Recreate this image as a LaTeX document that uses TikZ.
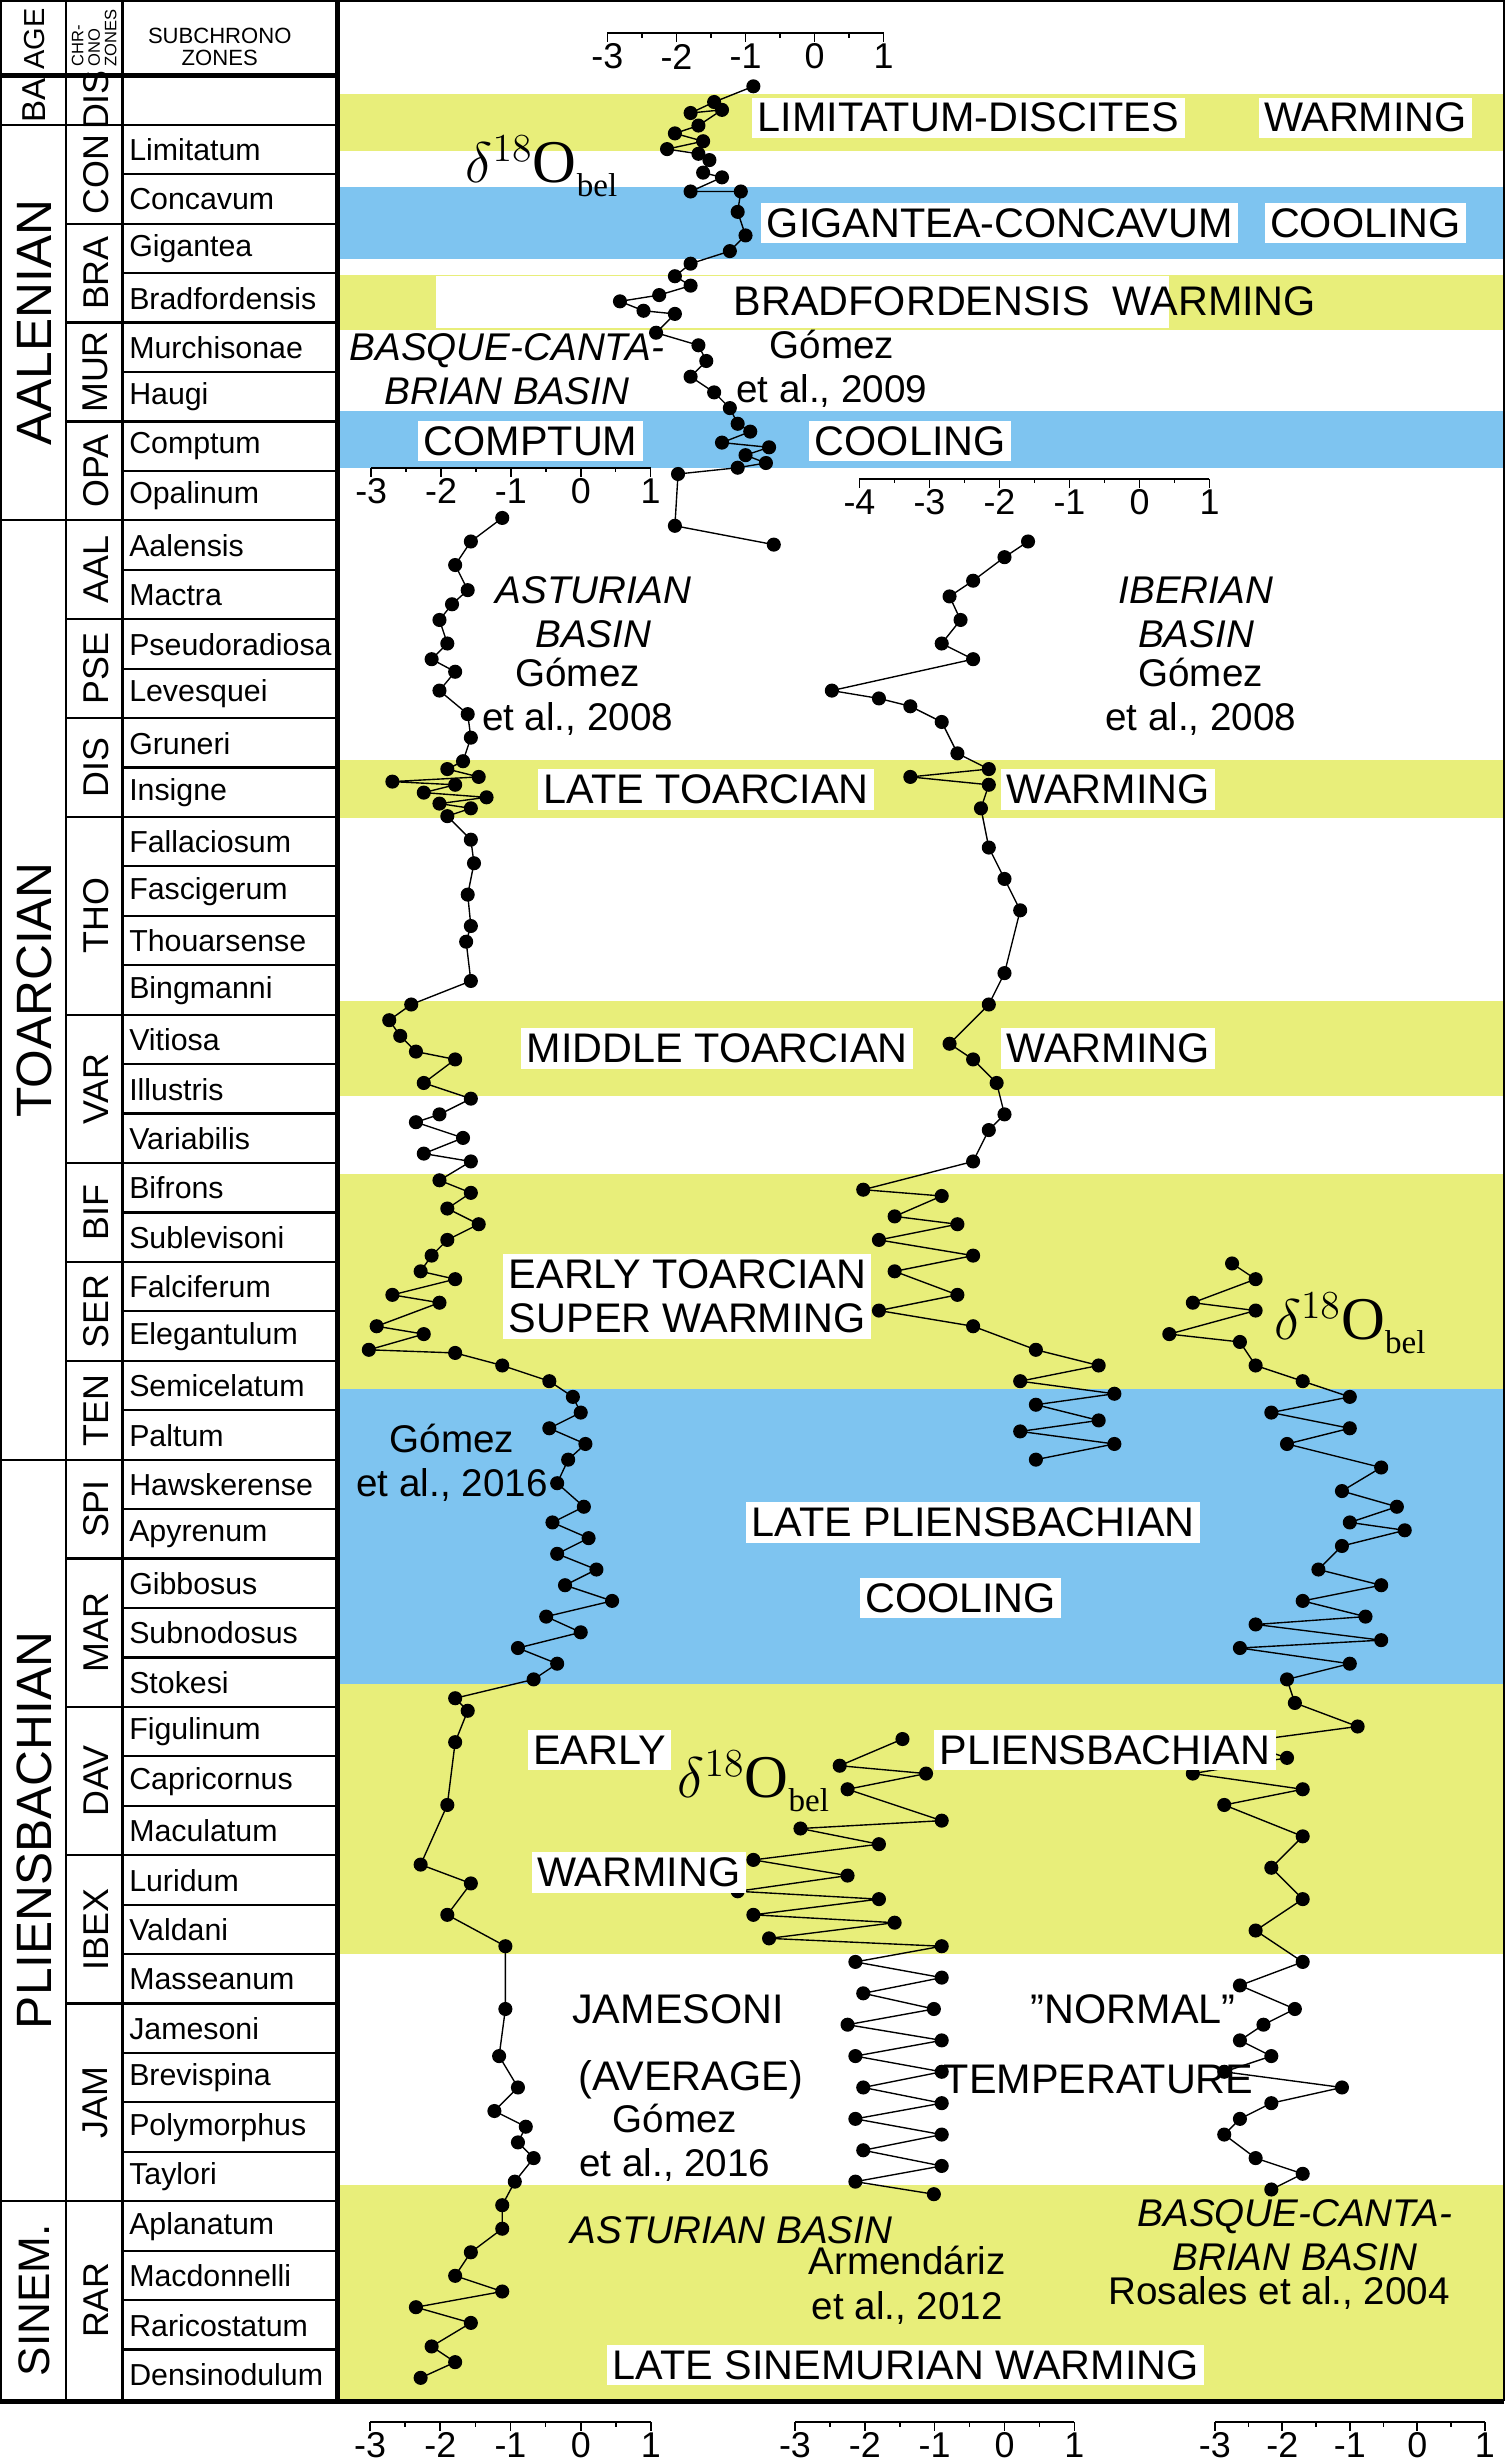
\documentclass[tikz,border=0pt]{standalone}
\usepackage{fontspec}
\setmainfont{Liberation Sans}
\newfontfamily\serf{Liberation Serif}
\begin{document}
\begin{tikzpicture}[x=0.02cm,y=-0.02cm,
  axl/.style={line width=0.6pt},
  axn/.style={font=\fontsize{13}{13}\selectfont,inner sep=0pt},
  grid/.style={line width=0.8pt},
  thk/.style={line width=1.6pt},
  sub/.style={anchor=west,font=\fontsize{11}{12}\selectfont,inner sep=0pt},
  chr/.style={rotate=90,font=\fontsize{13}{13}\selectfont,inner sep=0pt},
  agel/.style={rotate=90,font=\fontsize{18}{18}\selectfont,inner sep=0pt},
  lab/.style={font=\fontsize{15}{16}\selectfont,fill=white,inner sep=2pt,align=center},
  labn/.style={font=\fontsize{15}{16}\selectfont,inner sep=1pt,align=center},
  ital/.style={font=\fontsize{14}{16}\selectfont\itshape,inner sep=0pt,align=center},
  auth/.style={font=\fontsize{14}{16}\selectfont,inner sep=0pt,align=center},
  dO/.style={font=\serf\fontsize{22}{22}\selectfont,inner sep=0pt},
  curve/.style={line width=0.5pt,mark=*,mark size=2.3pt,mark options={fill=black}}]
\definecolor{yel}{RGB}{232,238,122}
\definecolor{blu}{RGB}{126,196,240}
\newcommand\dOtext{$\delta^{18}$O\raisebox{-5pt}{\fontsize{12}{12}\selectfont bel}}
\useasboundingbox (0,0) rectangle (960,1568);
% bands
\foreach \a/\b in {60/96,175/210,484/521,638/698,748/885,1073/1245,1392/1530}
  \fill[yel] (215,\a) rectangle (958,\b);
\foreach \a/\b in {119/165,262/298,885/1073}
  \fill[blu] (215,\a) rectangle (958,\b);
\fill[white] (278,176) rectangle (745,209);
% axes
\newcommand\dax[5]{%
  \draw[axl] ({#2+(#4)*#3},#1)--({#2+(#5)*#3},#1);
  \pgfmathtruncatemacro\lo{2*#4}\pgfmathtruncatemacro\hi{2*#5}%
  \foreach \k in {\lo,...,\hi}{\draw[axl] ({#2+\k*#3/2},#1)--++(0,{ifthenelse(mod(\k,2)==0,6,3)});}
  \foreach \v in {#4,...,#5}{\node[axn] at ({#2+\v*#3},#1+15) {\v};}}
\dax{21}{519}{44}{-3}{1}
\dax{298}{370}{44.5}{-3}{1}
\dax{305}{726}{44.6}{-4}{1}
\dax{1543}{370}{44.75}{-3}{1}
\dax{1543}{640}{44.5}{-3}{1}
\dax{1543}{903}{43}{-3}{1}
% table
\foreach \i in {1,...,46} \draw[grid] (78,{48+31.5*\i})--(215,{48+31.5*\i});
\foreach \i in {1,3,5,7,9,11,13,15,19,22,24,26,28,30,33,36,39,43}
  \draw[grid] (42,{48+31.5*\i})--(215,{48+31.5*\i});
\foreach \i in {1,9,28,43} \draw[grid] (0,{48+31.5*\i})--(215,{48+31.5*\i});
\draw[thk] (0,48)--(215,48);
\draw[grid] (42,0)--(42,1530) (78,0)--(78,1530);
\draw[thk] (0,0) rectangle (215,1530);
\draw[thk] (215,0)--(958,0) (215,1530)--(958,1530);
\draw[grid] (958,0)--(958,1530);
\foreach \n [count=\i from 1] in {Limitatum,Concavum,Gigantea,Bradfordensis,Murchisonae,Haugi,Comptum,Opalinum,Aalensis,Mactra,Pseudoradiosa,Levesquei,Gruneri,Insigne,Fallaciosum,Fascigerum,Thouarsense,Bingmanni,Vitiosa,Illustris,Variabilis,Bifrons,Sublevisoni,Falciferum,Elegantulum,Semicelatum,Paltum,Hawskerense,Apyrenum,Gibbosus,Subnodosus,Stokesi,Figulinum,Capricornus,Maculatum,Luridum,Valdani,Masseanum,Jamesoni,Brevispina,Polymorphus,Taylori,Aplanatum,Macdonnelli,Raricostatum,Densinodulum}
  \node[sub] (s\i) at (82,{48+31.5*\i+16}) {\n};
\foreach \n/\a/\b [count=\i] in {DIS/0/1,CON/1/3,BRA/3/5,MUR/5/7,OPA/7/9,AAL/9/11,PSE/11/13,DIS/13/15,THO/15/19,VAR/19/22,BIF/22/24,SER/24/26,TEN/26/28,SPI/28/30,MAR/30/33,DAV/33/36,IBEX/36/39,JAM/39/43,RAR/43/47}
  \node[chr] (c\i) at (61,{48+31.5*(\a+\b)/2}) {\n};
\foreach \n/\a/\b [count=\i] in {AALENIAN/1/9,TOARCIAN/9/28,PLIENSBACHIAN/28/43}
  \node[agel] (g\i) at (22,{48+31.5*(\a+\b)/2}) {\n};
\node[agel,font=\fontsize{16}{16}\selectfont] (g4) at (22,{48+31.5*45}) {SINEM.};
\node[agel,font=\fontsize{12}{12}\selectfont] (g0) at (22,64) {BA};
\node[agel,font=\fontsize{10.5}{10}\selectfont] (hage) at (22,25) {AGE};
\node[rotate=90,font=\fontsize{6}{6}\selectfont,inner sep=0pt,align=left] (hchr) at (60,24) {CHR-\\ONO\\ZONES};
\node[font=\fontsize{8}{8}\selectfont,inner sep=0pt,align=center] (hsub) at (140,30) {SUBCHRONO\\ZONES};
% curves
\draw[curve] plot coordinates {(480,55)(455,65)(440,72)(460,70)(445,80)(430,85)(448,90)(425,95)(445,98)(452,102)(448,110)(460,113)(440,122)(472,122)(470,135)(475,150)(465,160)(440,168)(430,176)(440,182)(420,188)(395,192)(410,198)(430,200)(418,212)(445,220)(450,230)(440,240)(455,250)(465,260)(470,270)(478,275)(460,282)(490,285)(475,290)(488,295)(470,298)(432,302)(430,335)(493,347)};
\draw[curve] plot coordinates {(320,330)(300,345)(290,360)(298,376)(288,385)(280,395)(285,410)(275,420)(290,428)(280,440)(298,455)(300,470)(295,485)(285,490)(305,495)(250,498)(290,500)(270,505)(310,508)(280,512)(300,515)(285,520)(300,535)(302,550)(298,570)(300,590)(297,600)(300,625)(262,640)(248,650)(255,660)(265,670)(290,675)(270,690)(300,700)(280,710)(265,715)(295,725)(270,735)(300,740)(280,752)(300,760)(285,770)(305,780)(285,790)(275,800)(268,810)(290,815)(250,825)(280,830)(240,845)(270,850)(235,860)(290,862)(320,870)(350,880)(365,890)(370,900)(350,910)(373,920)(362,930)(355,945)(372,960)(352,970)(375,980)(355,990)(380,1000)(360,1010)(390,1020)(348,1030)(370,1040)(330,1050)(355,1060)(340,1070)(290,1082)(298,1090)(290,1110)(285,1150)(268,1188)(300,1200)(285,1220)(322,1240)(322,1280)(318,1310)(330,1330)(315,1345)(335,1355)(330,1365)(340,1375)(328,1390)(320,1405)(320,1420)(300,1435)(290,1450)(320,1460)(265,1470)(300,1480)(275,1495)(290,1505)(268,1515)};
\draw[curve] plot coordinates {(655,345)(640,355)(620,370)(605,380)(612,395)(600,410)(620,420)(530,440)(560,445)(580,450)(600,460)(610,480)(630,490)(580,495)(630,500)(625,515)(630,540)(640,560)(650,580)(640,620)(630,640)(605,665)(620,675)(635,690)(640,710)(630,720)(620,740)(550,758)(600,762)(570,775)(610,780)(560,790)(620,800)(570,810)(610,825)(560,835)(620,845)(660,860)(700,870)(650,880)(710,888)(660,895)(700,905)(650,912)(710,920)(660,930)};
\draw[curve] plot coordinates {(575,1108)(535,1125)(590,1130)(540,1140)(600,1160)(510,1165)(560,1175)(480,1185)(540,1195)(470,1205)(560,1210)(480,1220)(570,1225)(490,1235)(600,1240)(545,1250)(600,1260)(550,1270)(595,1280)(540,1290)(600,1300)(545,1310)(600,1320)(550,1330)(600,1340)(545,1350)(600,1360)(550,1370)(600,1380)(545,1390)(595,1398)};
\draw[curve] plot coordinates {(785,805)(800,815)(760,830)(800,835)(745,850)(790,855)(800,870)(830,880)(860,890)(810,900)(860,910)(820,920)(880,935)(855,950)(890,960)(860,970)(895,975)(855,985)(840,1000)(880,1010)(830,1020)(870,1030)(800,1035)(880,1045)(790,1050)(860,1060)(820,1070)(825,1085)(865,1100)(790,1110)(820,1120)(760,1130)(830,1140)(780,1150)(830,1170)(810,1190)(830,1210)(800,1230)(830,1250)(790,1265)(825,1280)(805,1290)(790,1300)(810,1310)(780,1320)(855,1330)(810,1340)(790,1350)(780,1360)(800,1375)(830,1385)(810,1395)};
% labels
\node[dO] (d1) at (345,106) {\dOtext};
\node[dO] (d2) at (480,1135) {\dOtext};
\node[dO] (d3) at (860,843) {\dOtext};
\node[lab] (l1) at (617,75) {LIMITATUM-DISCITES};
\node[lab] (l2) at (870,75) {WARMING};
\node[lab] (l3) at (637,142) {GIGANTEA-CONCAVUM};
\node[lab] (l4) at (870,142) {COOLING};
\node[labn] (l5) at (653,192) {BRADFORDENSIS\ \ WARMING};
\node[ital] (b1) at (323,235) {BASQUE-CANTA-\\BRIAN BASIN};
\node[auth] (a1) at (530,235) {Gómez\\et al., 2009};
\node[lab] (l6) at (338,281) {COMPTUM};
\node[lab] (l7) at (580,281) {COOLING};
\node[ital] (b2) at (378,390) {ASTURIAN\\BASIN};
\node[auth] (a2) at (368,444) {Gómez\\et al., 2008};
\node[ital] (b3) at (762,390) {IBERIAN\\BASIN};
\node[auth] (a3) at (765,444) {Gómez\\et al., 2008};
\node[lab] (l8) at (450,503) {LATE TOARCIAN};
\node[lab] (l9) at (706,503) {WARMING};
\node[lab] (l10) at (457,668) {MIDDLE TOARCIAN};
\node[lab] (l11) at (706,668) {WARMING};
\node[lab] (l12) at (438,826) {EARLY TOARCIAN\\SUPER WARMING};
\node[auth] (a4) at (288,932) {Gómez\\et al., 2016};
\node[lab] (l13) at (620,970) {LATE PLIENSBACHIAN};
\node[lab] (l14) at (612,1018) {COOLING};
\node[lab] (l15) at (382,1115) {EARLY};
\node[lab] (l16) at (704,1115) {PLIENSBACHIAN};
\node[lab] (l17) at (407,1193) {WARMING};
\node[labn] (l18) at (432,1280) {JAMESONI};
\node[labn] (l19) at (722,1280) {"NORMAL"};
\node[labn] (l20) at (440,1325) {(AVERAGE)};
\node[labn] (l21) at (700,1325) {TEMPERATURE};
\node[auth] (a5) at (430,1365) {Gómez\\et al., 2016};
\node[ital] (b4) at (466,1421) {ASTURIAN BASIN};
\node[auth] (a6) at (578,1456) {Armendáriz\\et al., 2012};
\node[ital] (b5) at (825,1424) {BASQUE-CANTA-\\BRIAN BASIN};
\node[auth] (a7) at (815,1461) {Rosales et al., 2004};
\node[lab] (l22) at (577,1507) {LATE SINEMURIAN WARMING};
\end{tikzpicture}
\end{document}
